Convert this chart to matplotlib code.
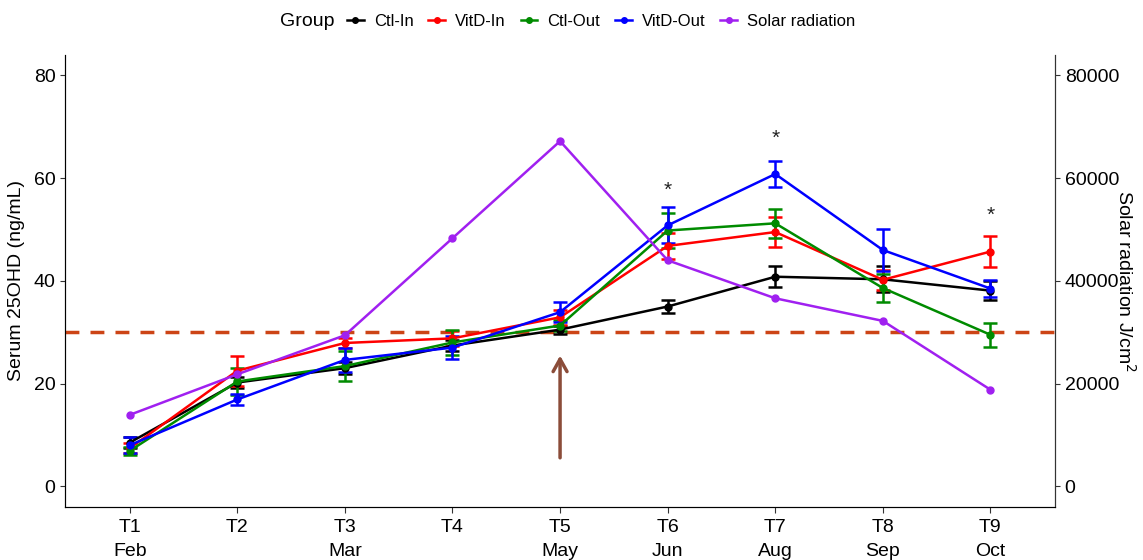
import matplotlib.pyplot as plt
from matplotlib.lines import Line2D

plt.rcParams['font.family'] = ['Liberation Sans', 'DejaVu Sans']

times = ['T1', 'T2', 'T3', 'T4', 'T5', 'T6', 'T7', 'T8', 'T9']
months = ['Feb', '', 'Mar', '', 'May', 'Jun', 'Aug', 'Sep', 'Oct']

ctl_in = [8.5, 20.2, 23.0, 27.4, 30.5, 35.0, 40.8, 40.3, 38.1]
ctl_in_se = [1.0, 1.0, 1.2, 1.0, 0.8, 1.3, 2.0, 2.5, 1.9]
vitd_in = [7.4, 22.5, 27.9, 28.8, 32.9, 46.8, 49.5, 40.2, 45.7]
vitd_in_se = [1.0, 2.9, 1.0, 1.5, 1.5, 2.5, 3.0, 2.0, 3.0]
ctl_out = [6.9, 20.4, 23.4, 28.0, 31.3, 49.8, 51.2, 38.6, 29.5]
ctl_out_se = [0.8, 2.7, 3.0, 2.5, 1.0, 3.4, 2.8, 2.7, 2.3]
vitd_out = [8.0, 16.9, 24.6, 27.0, 33.9, 50.8, 60.8, 46.0, 38.5]
vitd_out_se = [1.5, 1.1, 2.3, 2.2, 2.0, 3.5, 2.5, 4.0, 1.6]
solar = [13900, 21800, 29400, 48300, 67200, 44000, 36600, 32200, 18800]

star_pos = [6, 7, 9]
star_y = [57.7, 67.7, 52.8]

groups = ['Ctl-In', 'VitD-In', 'Ctl-Out', 'VitD-Out']
values = [ctl_in, vitd_in, ctl_out, vitd_out]
errors = [ctl_in_se, vitd_in_se, ctl_out_se, vitd_out_se]
colors = ['black', '#FF0000', '#008B00', '#0000FF']
purple = '#A020F0'

x = list(range(1, 10))

fig = plt.figure(figsize=(11.43, 5.6), dpi=100)
ax = fig.add_axes([0.057, 0.095, 0.866, 0.807])

ax.axhline(30, color='#CC4416', lw=2.5, ls=(0, (4, 3.2)), zorder=1)

for v, e, c in zip(values, errors, colors):
    ax.errorbar(x, v, yerr=e, color=c, lw=1.8, marker='o', ms=5,
                capsize=5, capthick=1.8, elinewidth=1.8, zorder=3)

for sx, sy in zip(star_pos, star_y):
    ax.text(sx, sy, '*', ha='center', va='center', fontsize=15, color='#222222')

ax.annotate('', xy=(5, 26), xytext=(5, 5),
            arrowprops=dict(arrowstyle='->,head_width=0.5,head_length=0.9',
                            color='#8B4C39', lw=2.5))

ax.set_xlim(0.4, 9.6)
ax.set_ylim(-4, 84)
ax.set_yticks([0, 20, 40, 60, 80])
ax.set_xticks(x)
ax.set_xticklabels([t + '\n' + m for t, m in zip(times, months)],
                   fontsize=14, linespacing=1.55)
ax.tick_params(axis='y', labelsize=14, colors='#333333', labelcolor='black')
ax.tick_params(axis='x', colors='#333333', labelcolor='black', length=4, pad=5)
ax.set_ylabel('Serum 25OHD (ng/mL)', fontsize=14, labelpad=6)
ax.spines['top'].set_visible(False)
for s in ['left', 'bottom', 'right']:
    ax.spines[s].set_color('#333333')

ax2 = ax.twinx()
ax2.plot(x, solar, color=purple, lw=1.8, marker='o', ms=5, zorder=4)
ax2.set_ylim(-4000, 84000)
ax2.set_yticks([0, 20000, 40000, 60000, 80000])
ax2.tick_params(axis='y', labelsize=14, colors='#333333', labelcolor='black')
ax2.set_ylabel('Solar radiation J/cm$^2$', fontsize=14, rotation=-90, labelpad=12)
ax2.spines['top'].set_visible(False)
ax2.spines['right'].set_color('#333333')

handles = [Line2D([], [], color=c, marker='o', ms=4, lw=1.8) for c in colors]
handles.append(Line2D([], [], color=purple, marker='o', ms=4, lw=1.8))
labels = groups + ['Solar radiation']
fig.text(0.245, 0.962, 'Group', fontsize=14, ha='left', va='center')
fig.legend(handles, labels, loc='center', bbox_to_anchor=(0.526, 0.962),
           ncol=5, frameon=False, fontsize=12, handlelength=1.0,
           handletextpad=0.6, columnspacing=0.9)

fig.savefig('out.png', dpi=100)
